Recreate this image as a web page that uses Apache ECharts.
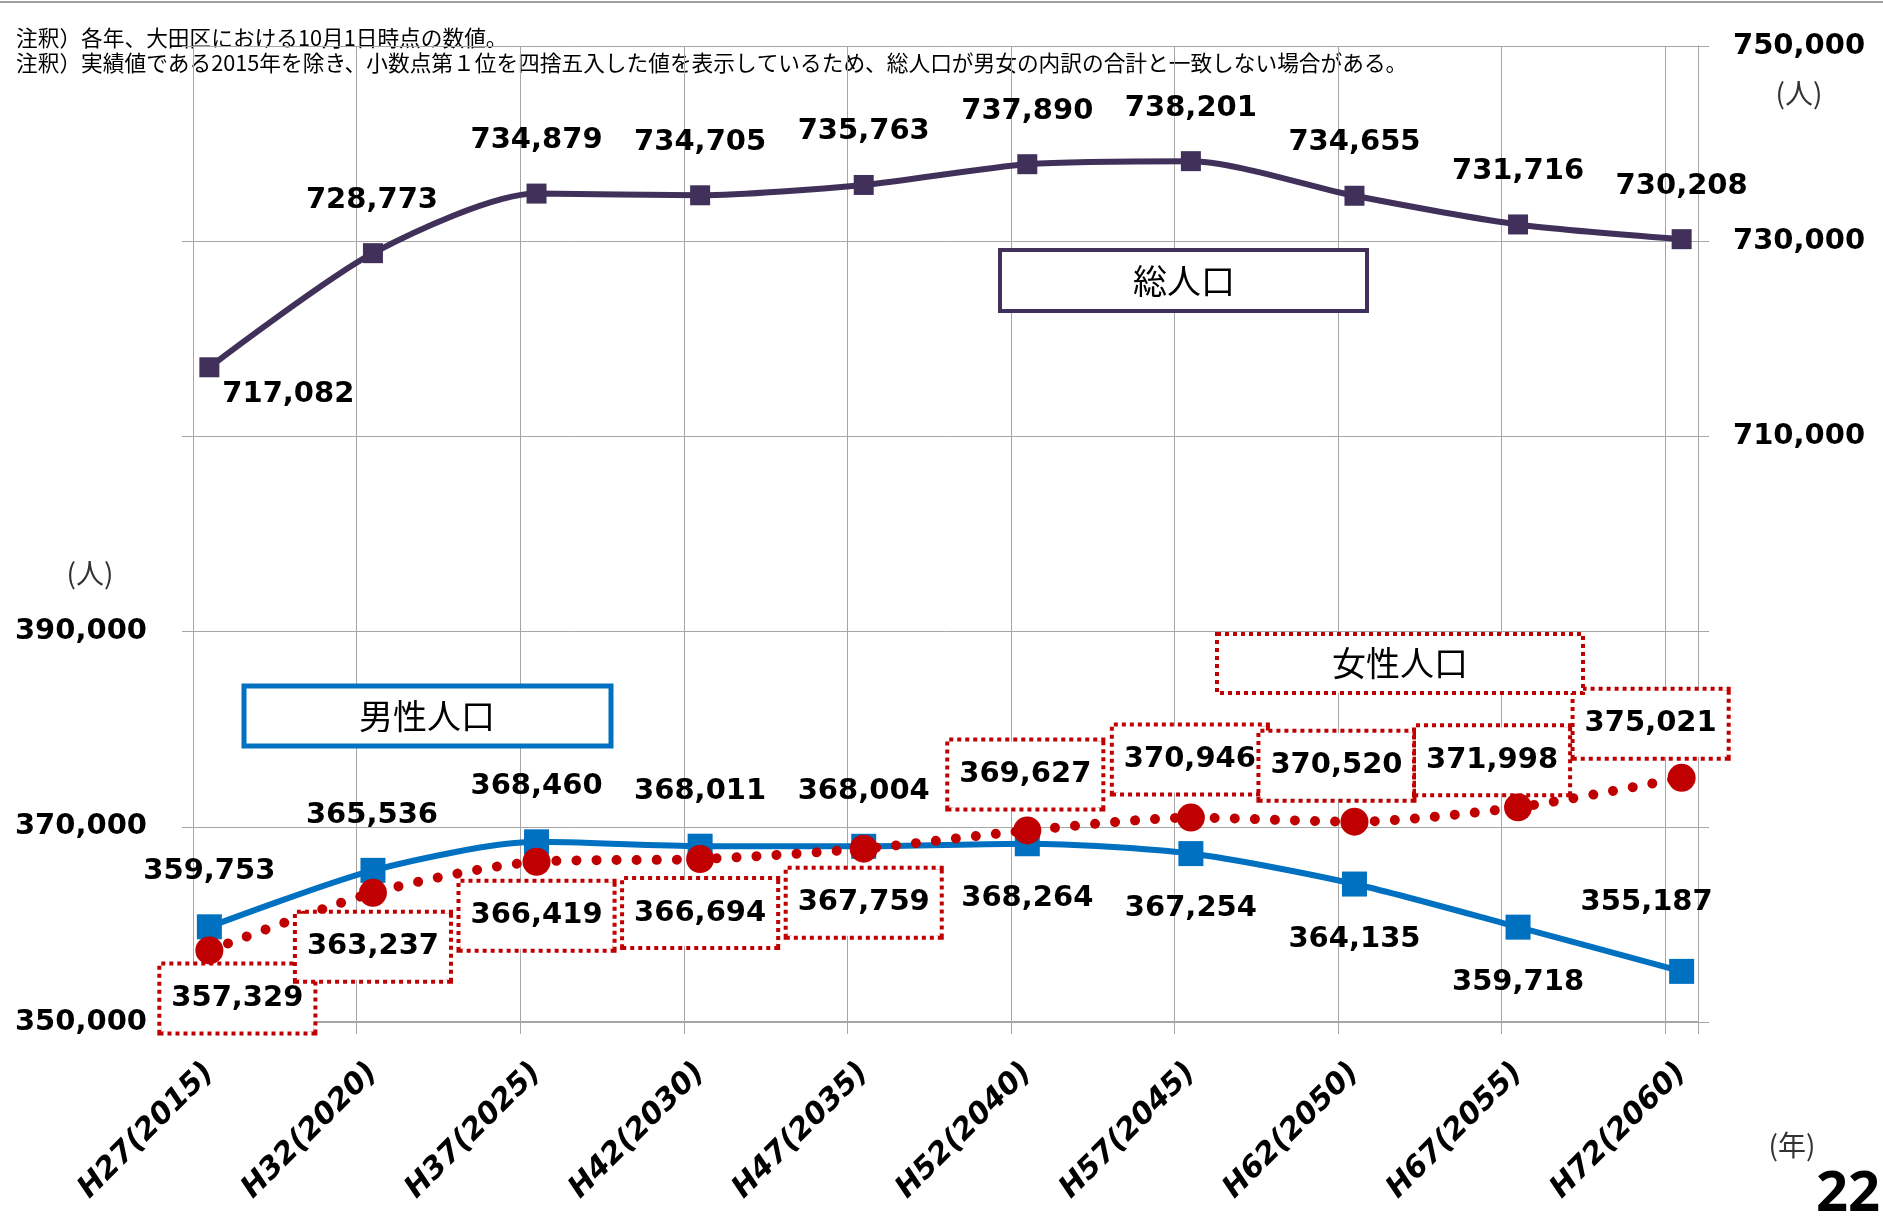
<!DOCTYPE html>
<html><head><meta charset="utf-8">
<script src="https://cdn.jsdelivr.net/npm/echarts@6/dist/echarts.min.js"></script>
<style>html,body{margin:0;padding:0;background:#fff;}#chart{width:1883px;height:1218px;}</style>
</head><body><div id="chart"></div>
<script>
// ---- data ----
const years = [2015, 2020, 2025, 2030, 2035, 2040, 2045, 2050, 2055, 2060];
const yearLabels = ['H27(2015)', 'H32(2020)', 'H37(2025)', 'H42(2030)', 'H47(2035)', 'H52(2040)', 'H57(2045)', 'H62(2050)', 'H67(2055)', 'H72(2060)'];
const totalPop = [717082, 728773, 734879, 734705, 735763, 737890, 738201, 734655, 731716, 730208];
const malePop = [359753, 365536, 368460, 368011, 368004, 368264, 367254, 364135, 359718, 355187];
const femalePop = [357329, 363237, 366419, 366694, 367759, 369627, 370946, 370520, 371998, 375021];
const leftTickLabels = [350000, 370000, 390000];
const rightTickLabels = [710000, 730000, 750000];
const seriesNames = ['総人口', '男性人口', '女性人口'];
const notes = ['注釈）各年、大田区における10月1日時点の数値。',
  '注釈）実績値である2015年を除き、小数点第１位を四捨五入した値を表示しているため、総人口が男女の内訳の合計と一致しない場合がある。'];

// ---- layout (label offsets in px) ----
const totalOff = [[79,27],[-1,-53],[0,-53],[0,-53],[0,-53],[0,-53],[0,-53],[0,-53],[0,-53],[0,-53]];
const maleOff = [[0,-55],[-1,-55],[0,-55],[0,-55],[0,-55],[0,55],[0,55],[0,55],[0,55],[-35,-69]];
const femaleOff = [[28,48],[0,54],[0,54],[0,54],[0,54],[-2,-56],[-1,-58],[-18,-56],[-26,-47],[-31,-54]];

const fmt = v => Number(v).toLocaleString('en-US');
const GRID = '#a6a6a6';
const NUMFONT = 'DejaVu Sans';
const CJK = '"Noto Sans CJK JP"';

function build(vals, offs) {
  return years.map((y, i) => ({ value: [y, vals[i]], label: { offset: offs[i] } }));
}
const baseLabel = {
  show: true, position: 'inside', color: '#000', fontFamily: NUMFONT, fontWeight: 'bold', fontSize: 29,
  formatter: p => fmt(p.value[1])
};

const chart = echarts.init(document.getElementById('chart'), null, { renderer: 'canvas' });
chart.setOption({
  animation: false,
  backgroundColor: '#fff',
  grid: { left: 193, right: 185, top: 46, bottom: 196, containLabel: false },
  xAxis: [
    {
      type: 'value', position: 'bottom', min: 2014.5, max: 2060.5,
      axisLine: { show: false, onZero: false }, axisTick: { show: false }, splitLine: { show: false },
      axisLabel: {
        show: true, customValues: years, rotate: 45, margin: 46, color: '#000', fontFamily: NUMFONT, fontWeight: 'bold',
        fontStyle: 'italic', fontSize: 30, showMinLabel: true, showMaxLabel: true, hideOverlap: false,
        formatter: v => { const i = years.indexOf(Math.round(v)); return i >= 0 ? yearLabels[i] : ''; }
      }
    },
    {
      type: 'value', position: 'bottom', min: 0, max: 46, interval: 5,
      axisLine: { show: true, onZero: false, lineStyle: { color: GRID, width: 2 } },
      axisTick: { show: true, inside: false, length: 12, lineStyle: { color: GRID } },
      axisLabel: { show: false },
      splitLine: { show: true, lineStyle: { color: GRID, width: 1 } }
    }
  ],
  yAxis: [
    {
      type: 'value', position: 'left', min: 350000, max: 450000, interval: 20000,
      axisLine: { show: true, lineStyle: { color: GRID } },
      axisTick: { show: true, inside: false, length: 11, lineStyle: { color: GRID } },
      splitLine: { show: true, lineStyle: { color: GRID, width: 1 } },
      axisLabel: {
        margin: 46, color: '#000', fontFamily: NUMFONT, fontWeight: 'bold', fontSize: 29,
        formatter: v => leftTickLabels.indexOf(v) >= 0 ? fmt(v) : ''
      }
    },
    {
      type: 'value', position: 'right', min: 650000, max: 750000, interval: 20000,
      axisLine: { show: true, lineStyle: { color: GRID } },
      axisTick: { show: true, inside: false, length: 11, lineStyle: { color: GRID } },
      splitLine: { show: false },
      axisLabel: {
        margin: 35, color: '#000', fontFamily: NUMFONT, fontWeight: 'bold', fontSize: 29,
        formatter: v => rightTickLabels.indexOf(v) >= 0 ? fmt(v) : ''
      }
    }
  ],
  series: [
    {
      name: seriesNames[0], type: 'line', xAxisIndex: 0, yAxisIndex: 1, smooth: 0.25,
      symbol: 'rect', symbolSize: 20, showAllSymbol: true,
      lineStyle: { color: '#41315a', width: 6 }, itemStyle: { color: '#41315a' },
      label: baseLabel, data: build(totalPop, totalOff), z: 3
    },
    {
      name: seriesNames[1], type: 'line', xAxisIndex: 0, yAxisIndex: 0, smooth: 0.25,
      symbol: 'rect', symbolSize: 25,
      lineStyle: { color: '#0070c0', width: 6 }, itemStyle: { color: '#0070c0' },
      label: baseLabel, data: build(malePop, maleOff), z: 3
    },
    {
      name: seriesNames[2], type: 'line', xAxisIndex: 0, yAxisIndex: 0, smooth: 0.25,
      symbol: 'circle', symbolSize: 28,
      lineStyle: { color: '#c00000', width: 10, type: [0.01, 20], cap: 'round' }, itemStyle: { color: '#c00000' },
      label: Object.assign({}, baseLabel, {
        backgroundColor: '#fff', borderColor: '#c00000', borderWidth: 4, borderType: [4, 4],
        padding: [16, 10, 14, 10], lineHeight: 36
      }),
      data: build(femalePop, femaleOff), z: 4
    }
  ],
  graphic: [
    { type: 'line', shape: { x1: 0, y1: 2, x2: 1883, y2: 2 }, style: { stroke: '#a0a0a0', lineWidth: 2 } },
    { type: 'text', x: 16, y: 38, style: { text: notes[0], font: '21.7px ' + CJK, fill: '#000', align: 'left', verticalAlign: 'middle' } },
    { type: 'text', x: 16, y: 63, style: { text: notes[1], font: '21.7px ' + CJK, fill: '#000', align: 'left', verticalAlign: 'middle' } },
    // legend boxes
    { type: 'rect', z: 20, shape: { x: 1000, y: 250, width: 367, height: 61 }, style: { fill: '#fff', stroke: '#41315a', lineWidth: 4 } },
    { type: 'text', z: 21, x: 1184, y: 281, style: { text: seriesNames[0], font: '34px ' + CJK, fill: '#000', align: 'center', verticalAlign: 'middle' } },
    { type: 'rect', z: 20, shape: { x: 244, y: 686, width: 367, height: 60 }, style: { fill: '#fff', stroke: '#0070c0', lineWidth: 5 } },
    { type: 'text', z: 21, x: 427, y: 716, style: { text: seriesNames[1], font: '34px ' + CJK, fill: '#000', align: 'center', verticalAlign: 'middle' } },
    { type: 'rect', z: 20, shape: { x: 1217, y: 634, width: 366, height: 59 }, style: { fill: '#fff', stroke: '#c00000', lineWidth: 4, lineDash: [4, 4] } },
    { type: 'text', z: 21, x: 1400, y: 663, style: { text: seriesNames[2], font: '34px ' + CJK, fill: '#000', align: 'center', verticalAlign: 'middle' } },
    // unit labels
    { type: 'text', x: 90, y: 573, style: { text: '(人)', font: '28px ' + CJK, fill: '#333', align: 'center', verticalAlign: 'middle' } },
    { type: 'text', x: 1799, y: 93, style: { text: '(人)', font: '28px ' + CJK, fill: '#333', align: 'center', verticalAlign: 'middle' } },
    { type: 'text', x: 1792, y: 1145, style: { text: '(年)', font: '28px ' + CJK, fill: '#333', align: 'center', verticalAlign: 'middle' } },
    { type: 'text', x: 1880, y: 1195, style: { text: '22', font: 'bold 56px "Noto Sans"', fill: '#000', align: 'right', verticalAlign: 'middle' } }
  ]
});
</script>
</body></html>
